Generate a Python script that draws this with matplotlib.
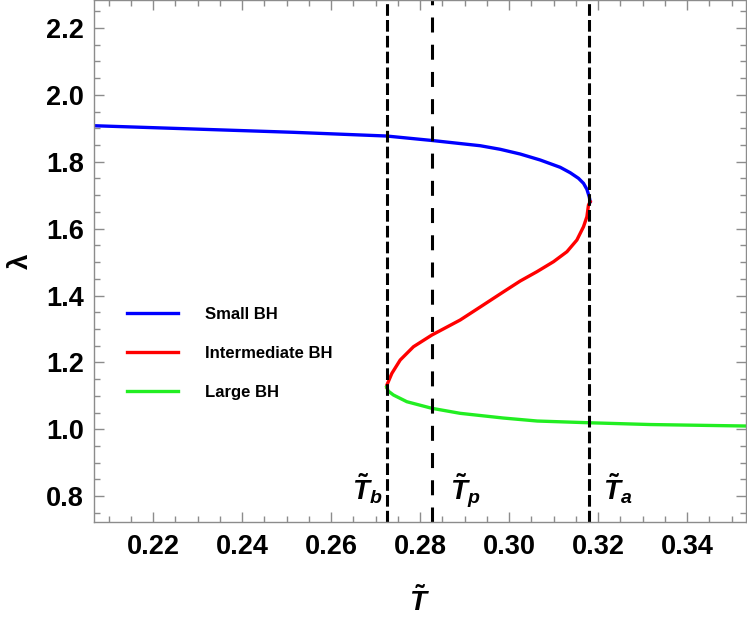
import numpy as np
import matplotlib.pyplot as plt
from matplotlib.ticker import MultipleLocator, FormatStrFormatter

plt.rcParams['font.family'] = ['Liberation Sans', 'DejaVu Sans']
plt.rcParams['font.weight'] = 'bold'
plt.rcParams['mathtext.fontset'] = 'custom'
plt.rcParams['mathtext.rm'] = 'Liberation Sans:bold'
plt.rcParams['mathtext.it'] = 'Liberation Sans:italic:bold'
plt.rcParams['mathtext.bf'] = 'Liberation Sans:bold'
plt.rcParams['lines.scale_dashes'] = False

# small BH branch (T, lambda)
small_T = [0.20663, 0.22899, 0.25146, 0.27243, 0.28270, 0.29348, 0.29798, 0.30247,
           0.30697, 0.31146, 0.31371, 0.31557, 0.31670, 0.31746, 0.31798, 0.31820]
small_lam = [1.9076, 1.8978, 1.8879, 1.8768, 1.8634, 1.8478, 1.8371, 1.8230,
             1.8051, 1.7833, 1.7671, 1.7504, 1.7354, 1.7175, 1.6954, 1.6804]

# intermediate BH branch
mid_T = [0.31820, 0.31782, 0.31746, 0.31670, 0.31521, 0.31297, 0.30996, 0.30622,
         0.30247, 0.29865, 0.29348, 0.28899, 0.28263, 0.27849, 0.27551, 0.27364,
         0.27252, 0.27247]
mid_lam = [1.6804, 1.6706, 1.6356, 1.6057, 1.5659, 1.5309, 1.5011, 1.4711,
           1.4433, 1.4105, 1.3656, 1.3268, 1.2819, 1.2469, 1.2072, 1.1674,
           1.1324, 1.1265]

# large BH branch
large_T = [0.27247, 0.27281, 0.27400, 0.27701, 0.28263, 0.28899, 0.29865, 0.30629,
           0.31775, 0.33169, 0.35315]
large_lam = [1.1265, 1.1145, 1.1025, 1.0825, 1.0628, 1.0478, 1.0338, 1.0248,
             1.0197, 1.0143, 1.0099]

# characteristic temperatures
T_b, T_p, T_a = 0.27247, 0.2827, 0.3179

fig = plt.figure(figsize=(7.47, 6.18), dpi=100)
ax = fig.add_axes([0.1252, 0.1558, 0.8728, 0.8442])

lw = 2.4
ax.plot(small_T, small_lam, color='#0000ff', lw=lw, label='Small BH', solid_joinstyle='round')
ax.plot(mid_T, mid_lam, color='#ff0000', lw=lw, label='Intermediate BH', solid_joinstyle='round')
ax.plot(large_T, large_lam, color='#22ee22', lw=lw, label='Large BH', solid_joinstyle='round')

ax.axvline(T_b, color='black', lw=2.2, dashes=(8.4, 3.0))
ax.axvline(T_a, color='black', lw=2.2, dashes=(8.4, 3.0))
ax.axvline(T_p, color='black', lw=2.2, dashes=(10.8, 8.8))

ax.annotate(r'$\tilde{T}_b$', xy=(T_b, 0.789), xytext=(-3, 0), textcoords='offset points',
            ha='right', va='baseline', fontsize=20)
ax.annotate(r'$\tilde{T}_p$', xy=(T_p, 0.789), xytext=(13, 0), textcoords='offset points',
            ha='left', va='baseline', fontsize=20)
ax.annotate(r'$\tilde{T}_a$', xy=(T_a, 0.789), xytext=(10, 0), textcoords='offset points',
            ha='left', va='baseline', fontsize=20)

ax.set_xlim(0.2066, 0.3531)
ax.set_ylim(0.7238, 2.2834)

ax.xaxis.set_major_locator(MultipleLocator(0.02))
ax.xaxis.set_minor_locator(MultipleLocator(0.005))
ax.yaxis.set_major_locator(MultipleLocator(0.2))
ax.yaxis.set_minor_locator(MultipleLocator(0.05))
ax.xaxis.set_major_formatter(FormatStrFormatter('%.2f'))
ax.yaxis.set_major_formatter(FormatStrFormatter('%.1f'))

ax.tick_params(which='both', direction='in', top=True, right=True, color='#8c8c8c', width=1)
ax.tick_params(which='major', length=7, labelsize=19.5)
ax.tick_params(which='minor', length=4)
ax.tick_params(axis='x', which='major', pad=8.5)
ax.tick_params(axis='y', which='major', pad=7)
for lab in ax.get_xticklabels() + ax.get_yticklabels():
    lab.set_fontweight('bold')

for sp in ax.spines.values():
    sp.set_color('#8c8c8c')
    sp.set_linewidth(1)

ax.set_xlabel(r'$\tilde{T}$', fontsize=20)
ax.xaxis.set_label_coords(0.5, -0.125)
ax.set_ylabel('λ', fontsize=20, fontweight='bold')
ax.yaxis.set_label_coords(-0.092, 0.5)

ax.legend(loc='center left', bbox_to_anchor=(0.051, 0.323), frameon=False,
          prop={'size': 12, 'weight': 'bold'}, handlelength=3.1, handletextpad=1.6,
          labelspacing=1.45, borderpad=0, borderaxespad=0)

fig.savefig('out.png', dpi=100)
